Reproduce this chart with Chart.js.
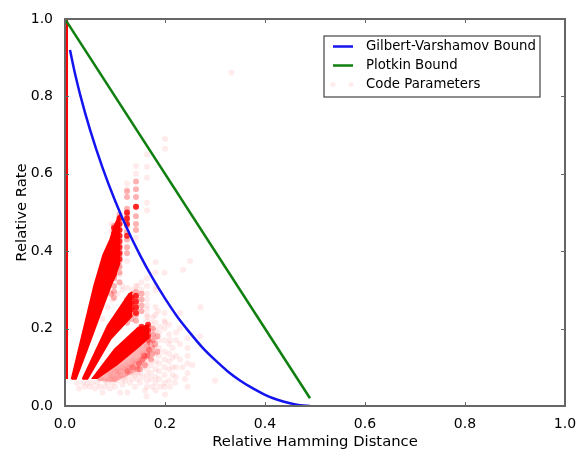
<!DOCTYPE html>
<html>
<head>
<meta charset="utf-8">
<style>
html, body { margin: 0; padding: 0; background: #fff; }
#wrap { width: 586px; height: 452px; }
</style>
<script src="https://cdn.jsdelivr.net/npm/chart.js@4"></script>
</head>
<body>
<div id="wrap"><canvas id="boundsChart" width="586" height="452"></canvas></div>
<script>
const axisTicks = [0, 0.2, 0.4, 0.6, 0.8, 1.0];

const gvBound = [[0.01,0.92],[0.02,0.859],[0.03,0.806],[0.05,0.714],[0.075,0.616],[0.1,0.531],[0.125,0.456],[0.15,0.39],[0.175,0.331],[0.2,0.278],[0.225,0.23],[0.25,0.189],[0.275,0.151],[0.3,0.119],[0.325,0.09],[0.35,0.066],[0.375,0.046],[0.4,0.029],[0.425,0.016],[0.45,0.007],[0.47,0.002],[0.49,0]];
const plotkinBound = [[0,1],[0.49,0.02]];

// zero distance column on the left axis
const leftColumn = [[0.003,0.07],[0.003,1]];

// dense wedges, read as outlines
const wedgeOneTop = [[0.013,0.07],[0.058,0.311],[0.076,0.39],[0.09,0.43],[0.1,0.47],[0.11,0.495]];
const wedgeOneLow = [[0.013,0.07],[0.022,0.07],[0.045,0.148],[0.07,0.235],[0.092,0.311],[0.1,0.335],[0.11,0.37]];
const wedgeTwoTop = [[0.035,0.07],[0.085,0.208],[0.128,0.29],[0.135,0.295]];
const wedgeTwoLow = [[0.035,0.07],[0.045,0.07],[0.092,0.174],[0.135,0.234]];
const wedgeThreeTop = [[0.052,0.07],[0.098,0.148],[0.145,0.204],[0.168,0.212]];
const wedgeThreeLow = [[0.052,0.07],[0.065,0.07],[0.105,0.105],[0.145,0.148],[0.168,0.174]];
const hazeTop = [[0.065,0.072],[0.105,0.107],[0.145,0.15],[0.17,0.176]];
const hazeLow = [[0.065,0.065],[0.1,0.062],[0.14,0.088],[0.17,0.13]];

// near solid markers in the busiest columns
const solidPoints = [
  [0.109,0.38],[0.109,0.395],[0.109,0.41],[0.109,0.425],[0.109,0.44],[0.109,0.455],[0.109,0.47],[0.109,0.485],
  [0.124,0.44],[0.124,0.47],[0.124,0.485],[0.124,0.5],[0.142,0.515],
  [0.098,0.34],[0.098,0.355],[0.098,0.37],[0.098,0.385],[0.098,0.4],[0.098,0.415],[0.098,0.43],[0.098,0.445],[0.098,0.46],
  [0.133,0.25],[0.133,0.265],[0.133,0.28],[0.142,0.24],[0.142,0.255],[0.142,0.27],[0.142,0.285],
  [0.153,0.19],[0.153,0.205],[0.166,0.18],[0.166,0.195],[0.166,0.21]
];

// darker overlapped markers
const strongPoints = [
  [0.098,0.33],[0.098,0.345],[0.098,0.36],[0.098,0.375],[0.098,0.39],[0.098,0.405],[0.098,0.42],[0.098,0.435],[0.098,0.45],[0.098,0.465],
  [0.109,0.345],[0.109,0.36],[0.109,0.375],[0.109,0.39],[0.109,0.4],[0.109,0.415],[0.109,0.43],[0.109,0.44],[0.109,0.455],[0.109,0.47],[0.109,0.485],[0.109,0.495],
  [0.124,0.395],[0.124,0.41],[0.124,0.43],[0.124,0.45],[0.124,0.465],[0.124,0.48],[0.124,0.495],[0.124,0.51],
  [0.142,0.455],[0.142,0.47],[0.142,0.49],[0.142,0.515],[0.142,0.54],[0.142,0.56],[0.142,0.58],
  [0.124,0.54],[0.124,0.555],
  [0.092,0.29],[0.098,0.28],[0.098,0.295],[0.098,0.31],[0.109,0.32],
  [0.124,0.215],[0.124,0.23],[0.124,0.245],[0.124,0.26],[0.124,0.275],[0.133,0.225],[0.133,0.24],[0.133,0.255],[0.133,0.27],[0.133,0.285],
  [0.142,0.22],[0.142,0.235],[0.142,0.25],[0.142,0.265],[0.142,0.28],[0.142,0.295],[0.153,0.245],[0.153,0.26],[0.153,0.275],[0.153,0.29],
  [0.153,0.185],[0.153,0.2],[0.153,0.17],[0.166,0.17],[0.166,0.185],[0.166,0.2],
  [0.125,0.09],[0.135,0.1],[0.145,0.095],[0.155,0.12],[0.165,0.13],[0.175,0.15],[0.176,0.17],[0.176,0.185],[0.176,0.2],
  [0.17,0.165],[0.168,0.145],[0.158,0.13],[0.148,0.11],[0.18,0.16],[0.185,0.18],[0.175,0.135],[0.185,0.14],[0.172,0.12],[0.16,0.105],[0.15,0.095]
];

// single faint markers
const codePoints = [
  [0.333,0.862],[0.2,0.69],[0.2,0.665],[0.164,0.65],[0.164,0.618],[0.164,0.59],[0.164,0.525],[0.164,0.505],[0.142,0.6],[0.142,0.62],[0.142,0.435],[0.124,0.375],[0.124,0.575],[0.124,0.56],
  [0.109,0.36],[0.109,0.34],[0.098,0.33],[0.088,0.41],[0.093,0.45],[0.093,0.47],
  [0.181,0.372],[0.181,0.345],[0.199,0.344],[0.236,0.352],[0.25,0.375],[0.271,0.255],[0.164,0.33],[0.164,0.31],[0.164,0.29],[0.164,0.275],[0.181,0.31],[0.181,0.3],[0.164,0.26],[0.153,0.3],[0.153,0.32],[0.142,0.31],
  [0.199,0.24],[0.199,0.22],[0.199,0.2],[0.199,0.17],[0.199,0.14],[0.199,0.12],[0.199,0.1],[0.199,0.08],[0.199,0.06],[0.199,0.05],
  [0.181,0.256],[0.181,0.235],[0.181,0.215],[0.181,0.195],[0.181,0.175],[0.181,0.155],[0.181,0.135],[0.181,0.115],[0.181,0.095],[0.181,0.075],[0.181,0.06],[0.181,0.04],[0.163,0.025],
  [0.164,0.25],[0.164,0.235],[0.164,0.22],[0.164,0.155],[0.164,0.14],[0.164,0.125],[0.164,0.11],[0.164,0.095],[0.164,0.08],[0.164,0.065],[0.164,0.05],
  [0.172,0.215],[0.172,0.2],[0.172,0.185],[0.172,0.17],[0.172,0.155],[0.172,0.14],[0.172,0.125],[0.172,0.105],[0.172,0.085],[0.172,0.07],
  [0.188,0.19],[0.188,0.17],[0.188,0.15],[0.188,0.13],[0.188,0.11],[0.188,0.09],[0.188,0.07],[0.208,0.21],[0.208,0.185],[0.208,0.16],[0.208,0.135],[0.208,0.115],[0.208,0.095],[0.208,0.065],[0.215,0.15],[0.215,0.125],[0.215,0.1],[0.215,0.08],[0.222,0.19],[0.222,0.17],[0.222,0.13],[0.222,0.1],[0.222,0.075],
  [0.23,0.24],[0.23,0.2],[0.23,0.16],[0.23,0.12],[0.245,0.175],[0.245,0.15],[0.245,0.13],[0.245,0.11],[0.245,0.085],[0.245,0.05],[0.255,0.105],[0.3,0.065],[0.27,0.18],
  [0.024,0.06],[0.028,0.045],[0.036,0.06],[0.04,0.05],[0.045,0.06],[0.05,0.05],[0.055,0.06],[0.06,0.045],[0.065,0.06],[0.07,0.05],[0.075,0.035],[0.08,0.05],[0.085,0.06],[0.09,0.045],[0.095,0.06],[0.1,0.05],[0.105,0.065],[0.11,0.035],[0.115,0.055],[0.12,0.065],[0.125,0.035],[0.13,0.06],[0.135,0.07],[0.14,0.05],[0.145,0.07],[0.15,0.06],[0.155,0.075],[0.16,0.04],[0.15,0.085],[0.14,0.08],[0.13,0.085],
  [0.1,0.07],[0.11,0.08],[0.12,0.08],[0.09,0.07],[0.08,0.065],[0.07,0.07],[0.095,0.075],[0.105,0.08],[0.125,0.075],[0.115,0.07],[0.135,0.085],[0.145,0.085],[0.155,0.1],[0.16,0.11],[0.15,0.105],[0.14,0.11],[0.13,0.1],[0.12,0.095],[0.11,0.09],
  [0.1,0.09],[0.09,0.085],[0.15,0.12],[0.16,0.13],[0.155,0.135],[0.145,0.115],[0.135,0.115],[0.125,0.105],[0.115,0.1],[0.105,0.095],
  [0.075,0.225],[0.085,0.255],[0.095,0.275],[0.105,0.29],[0.115,0.3],[0.125,0.305],[0.135,0.3],[0.145,0.31],[0.115,0.31],
  [0.19,0.205],[0.2,0.215],[0.165,0.23],[0.176,0.23],[0.186,0.245],[0.21,0.17],[0.235,0.1],[0.24,0.07],[0.22,0.06],[0.21,0.05],[0.19,0.05],[0.175,0.05],[0.2,0.03]
];

const ctx = document.getElementById('boundsChart').getContext('2d');

function wedge(points, color, fillTarget, edge) {
    return {
        type: 'line', data: points, showLine: true, borderWidth: edge, pointRadius: 0,
        borderColor: color, backgroundColor: color, fill: fillTarget, order: 5
    };
}

// old matplotlib style: ticks point inward on all four sides
const frameTicks = {
    id: 'frameTicks',
    afterDraw(chart) {
        const c = chart.ctx, a = chart.chartArea, sx = chart.scales.x, sy = chart.scales.y;
        c.save();
        c.strokeStyle = '#666';
        c.lineWidth = 1;
        c.beginPath();
        axisTicks.forEach(t => {
            const px = Math.round(sx.getPixelForValue(t)) + 0.5;
            const py = Math.round(sy.getPixelForValue(t)) + 0.5;
            c.moveTo(px, a.bottom); c.lineTo(px, a.bottom - 4);
            c.moveTo(px, a.top); c.lineTo(px, a.top + 4);
            c.moveTo(a.left, py); c.lineTo(a.left + 4, py);
            c.moveTo(a.right, py); c.lineTo(a.right - 4, py);
        });
        c.stroke();
        c.lineWidth = 2;
        c.strokeRect(a.left, a.top, a.right - a.left, a.bottom - a.top);
        c.restore();
    }
};

// legend box sits inside the axes at the upper right
const boxLegend = {
    id: 'boxLegend',
    afterDraw(chart) {
        const c = chart.ctx;
        const rows = chart.data.datasets.filter(d => d.legendRow !== undefined);
        c.save();
        c.fillStyle = '#fff';
        c.fillRect(324, 36, 216, 61);
        c.strokeStyle = '#444';
        c.lineWidth = 1.2;
        c.strokeRect(324, 36, 216, 61);
        c.font = '13.3px "DejaVu Sans"';
        c.textBaseline = 'middle';
        rows.forEach(d => {
            const y = 46.5 + d.legendRow * 19;
            if (d.showLine) {
                c.strokeStyle = d.borderColor;
                c.lineWidth = 2.5;
                c.beginPath(); c.moveTo(333, y); c.lineTo(353, y); c.stroke();
            } else {
                c.fillStyle = d.backgroundColor;
                [333, 351].forEach(x => { c.beginPath(); c.arc(x, y, 2.5, 0, Math.PI * 2); c.fill(); });
            }
            c.fillStyle = '#000';
            c.fillText(d.label, 366, y);
        });
        c.restore();
    }
};

new Chart(ctx, {
    type: 'scatter',
    data: {
        datasets: [
            { label: 'Plotkin Bound', type: 'line', data: plotkinBound, borderColor: '#0f7f0f', borderWidth: 2.5, pointRadius: 0, showLine: true, fill: false, order: 1, legendRow: 1 },
            { label: 'Gilbert-Varshamov Bound', type: 'line', data: gvBound, borderColor: '#1414f0', borderWidth: 2.5, pointRadius: 0, showLine: true, fill: false, cubicInterpolationMode: 'monotone', order: 0, legendRow: 0 },
            { label: 'Code Parameters', data: codePoints, backgroundColor: 'rgba(255,0,0,0.08)', pointRadius: 3, pointBorderWidth: 0, order: 2, legendRow: 2 },
            { label: 'overlap', data: strongPoints, backgroundColor: 'rgba(255,0,0,0.3)', pointRadius: 3, pointBorderWidth: 0, order: 3 },
            { label: 'solid', data: solidPoints, backgroundColor: 'rgba(255,0,0,0.8)', pointRadius: 3, pointBorderWidth: 0, order: 4 },
            { label: 'left column', type: 'line', data: leftColumn, borderColor: '#f00', borderWidth: 3, pointRadius: 0, showLine: true, fill: false, order: 3 },
            wedge(wedgeOneTop, '#f00', false, 1.5),
            wedge(wedgeOneLow, '#f00', '-1', 1.5),
            wedge(wedgeTwoTop, '#f00', false, 1.5),
            wedge(wedgeTwoLow, '#f00', '-1', 1.5),
            wedge(wedgeThreeTop, '#f00', false, 0),
            wedge(wedgeThreeLow, '#f00', '-1', 0),
            wedge(hazeTop, 'rgba(255,0,0,0.3)', false, 0),
            wedge(hazeLow, 'rgba(255,0,0,0.3)', '-1', 0)
        ]
    },
    options: {
        responsive: false,
        animation: false,
        devicePixelRatio: 1,
        layout: { padding: { top: 19, right: 21 } },
        plugins: { legend: { display: false }, tooltip: { enabled: false } },
        scales: {
            x: {
                type: 'linear', min: 0, max: 1,
                afterFit: s => { s.height = 46; },
                afterBuildTicks: s => { s.ticks = axisTicks.map(v => ({ value: v })); },
                grid: { display: false },
                border: { display: false },
                ticks: { color: '#000', padding: 2, maxRotation: 0, font: { family: 'DejaVu Sans', size: 14 }, callback: v => v.toFixed(1) },
                title: { display: true, text: 'Relative Hamming Distance', color: '#000', font: { family: 'DejaVu Sans', size: 14.8 }, padding: { top: 4, bottom: 1 } }
            },
            y: {
                type: 'linear', min: 0, max: 1,
                afterFit: s => { s.width = 65; },
                afterBuildTicks: s => { s.ticks = axisTicks.map(v => ({ value: v })); },
                grid: { display: false },
                border: { display: false },
                ticks: { color: '#000', padding: 4, font: { family: 'DejaVu Sans', size: 14 }, callback: v => v.toFixed(1) },
                title: { display: true, text: 'Relative Rate', color: '#000', font: { family: 'DejaVu Sans', size: 14.8 }, padding: { top: 13, bottom: 4 } }
            }
        }
    },
    plugins: [frameTicks, boxLegend]
});
</script>
</body>
</html>
